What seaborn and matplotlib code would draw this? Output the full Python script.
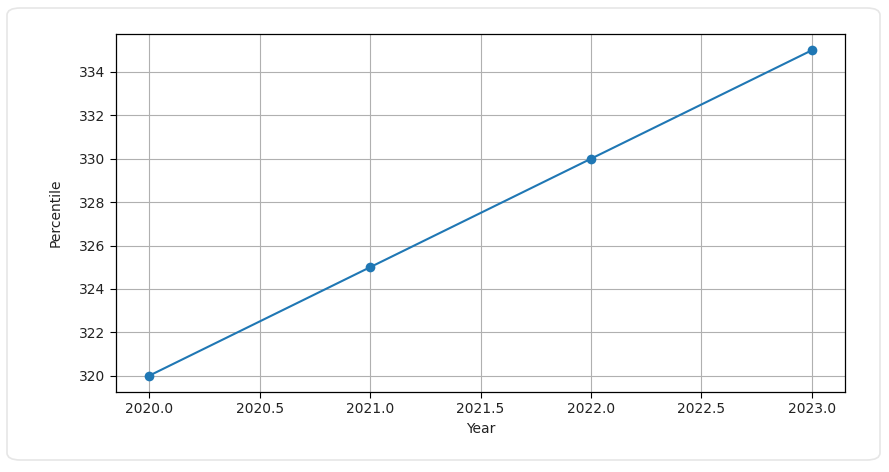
import matplotlib
matplotlib.use("Agg")
import matplotlib.pyplot as plt
import seaborn as sns
import pandas as pd
from matplotlib.patches import FancyBboxPatch

# data
years = [2020, 2021, 2022, 2023]
percentile = [320, 325, 330, 335]

df = pd.DataFrame({"Year": years, "Percentile": percentile})

sns.set_style("white")
plt.rcParams['font.family'] = ['DejaVu Sans']

fig = plt.figure(figsize=(8.89, 4.72), dpi=100)

# card outline around the chart
card = FancyBboxPatch((7 / 889, 12 / 472), 873 / 889, 452 / 472,
                      boxstyle="round,pad=0,rounding_size=0.015",
                      transform=fig.transFigure, facecolor="none",
                      edgecolor="#e6e6e6", linewidth=1.2, zorder=-5)
fig.patches.append(card)

ax = fig.add_axes([0.1305, 0.1695, 0.82, 0.7585])
sns.lineplot(data=df, x="Year", y="Percentile", marker="o", markersize=7,
             markeredgewidth=0, color="#1f77b4", linewidth=1.5, ax=ax)

ax.grid(True, color="#b0b0b0", linewidth=0.8)
ax.set_axisbelow(True)
for s in ax.spines.values():
    s.set_color("black")
    s.set_linewidth(0.9)
ax.tick_params(axis="both", which="both", length=4, width=0.8, color="black",
               labelsize=10, left=True, bottom=True, labelcolor="#222222")
ax.set_xlabel("Year", fontsize=10, color="#222222")
ax.set_ylabel("Percentile", fontsize=10, color="#222222", labelpad=12)

fig.savefig("out.png", dpi=100)
